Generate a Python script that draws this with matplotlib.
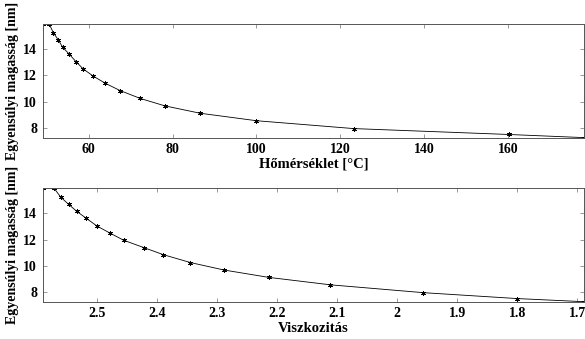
import numpy as np
import matplotlib
matplotlib.use('Agg')
import matplotlib.pyplot as plt

# Equilibrium height (same points in both panels)
height = [15.92, 15.92, 15.25, 14.7, 14.15, 13.65, 13.05, 12.5, 11.95, 11.4,
          10.85, 10.25, 9.68, 9.12, 8.55, 7.95, 7.5, 7.26]
temperature = [49.05, 50.6, 51.6, 52.8, 53.8, 55.3, 57.0, 58.7, 61.1, 64.0,
               67.5, 72.3, 78.2, 86.6, 100.0, 123.2, 160.2, 178.2]
viscosity = [2.59, 2.571, 2.56, 2.547, 2.533, 2.518, 2.50, 2.478, 2.455, 2.422,
             2.389, 2.344, 2.288, 2.214, 2.111, 1.956, 1.80, 1.688]

temp_ticks = [60, 80, 100, 120, 140, 160]
visc_ticks = [2.5, 2.4, 2.3, 2.2, 2.1, 2.0, 1.9, 1.8, 1.7]
visc_labels = ['2.5', '2.4', '2.3', '2.2', '2.1', '2', '1.9', '1.8', '1.7']
y_ticks = [8, 10, 12, 14]

plt.rcParams['font.family'] = ['Liberation Serif', 'DejaVu Serif']
plt.rcParams['font.weight'] = 'bold'

fig = plt.figure(figsize=(5.85, 3.39), dpi=100)
ax1 = fig.add_axes([0.073, 0.594, 0.926, 0.335])
ax2 = fig.add_axes([0.073, 0.110, 0.926, 0.3345])

ylabel = 'Egyensúlyi magasság [nm]'
frame = '#555555'

def style(ax):
    ax.set_ylim(7.26, 15.92)
    ax.set_yticks(y_ticks)
    ax.tick_params(direction='in', length=3, width=0.6, color='#888888',
                   top=True, right=True, labelsize=10, pad=4)
    for lbl in ax.get_xticklabels() + ax.get_yticklabels():
        lbl.set_fontweight('bold')
    for s in ax.spines.values():
        s.set_color(frame)
        s.set_linewidth(0.7)
    ax.set_ylabel(ylabel, fontsize=10, fontweight='bold', labelpad=3)

ax1.plot(temperature, height, color='black', lw=0.6,
         marker=(6, 2, 0), ms=3.5, mew=0.6)
ax1.set_xlim(49.05, 178.2)
ax1.set_xticks(temp_ticks)
style(ax1)
ax1.set_xlabel('Hőmérséklet [°C]', fontsize=10.5, fontweight='bold', labelpad=1)

ax2.plot(viscosity, height, color='black', lw=0.6,
         marker=(6, 2, 0), ms=3.5, mew=0.6)
ax2.set_xlim(2.59, 1.688)
ax2.set_xticks(visc_ticks)
ax2.set_xticklabels(visc_labels)
style(ax2)
ax2.set_xlabel('Viszkozitás', fontsize=10.5, fontweight='bold', labelpad=1)

fig.savefig('out.png', dpi=100)
